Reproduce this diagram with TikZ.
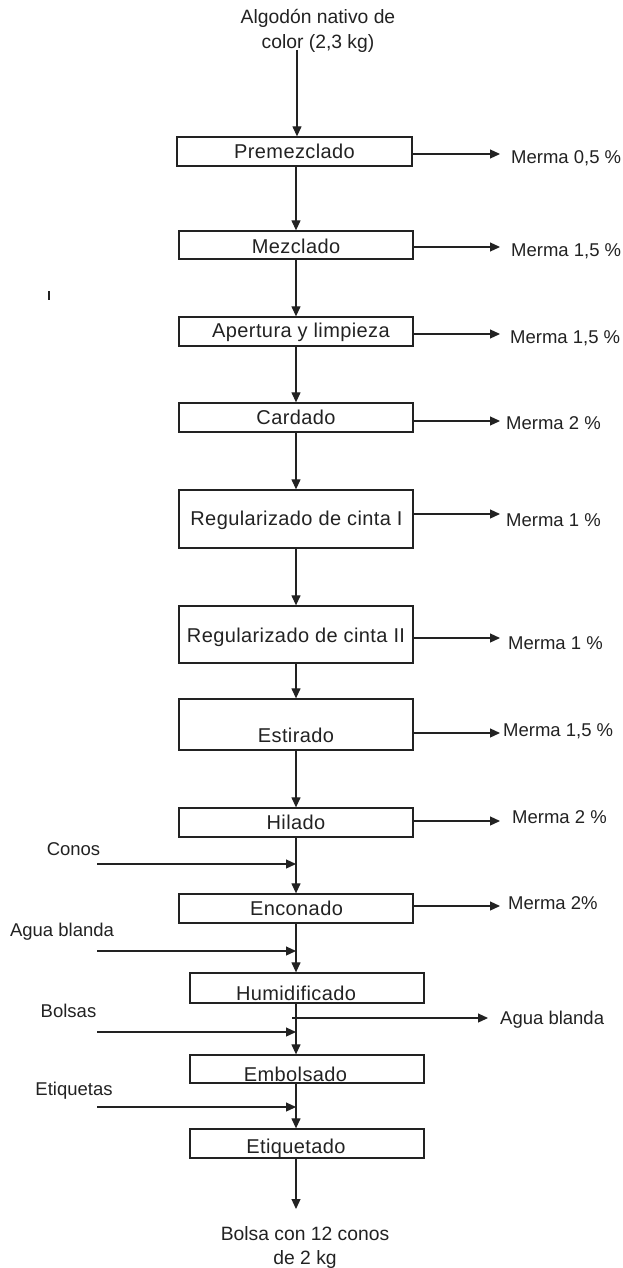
\documentclass[tikz,border=0pt]{standalone}
\usepackage{fontspec}
\setmainfont{Liberation Sans}
\usetikzlibrary{arrows.meta}
\definecolor{ink}{HTML}{222222}
\begin{document}
\begin{tikzpicture}[x=1pt,y=-1pt,
  ln/.style={line width=1.2pt, draw=ink},
  arr/.style={ln, -{Triangle[length=10pt,width=9pt]}},
  box/.style={draw=ink, line width=1.3pt, inner sep=0pt, minimum width=234pt},
  tb/.style={inner sep=0pt, font=\fontsize{20}{25}\selectfont\addfontfeatures{LetterSpace=2}, text height=14pt, text depth=0pt, text=ink},
  ts/.style={inner sep=0pt, font=\fontsize{18.5}{24}\selectfont, text height=13.2pt, text depth=0pt, text=ink, anchor=west},
  tm/.style={inner sep=0pt, font=\fontsize{19.3}{24.5}\selectfont, text=ink, align=center, anchor=north},
]
\useasboundingbox (0,0) rectangle (623,1268);
\coordinate (m) at (296,0);

% boxes
\node[box, minimum width=235pt, minimum height=29pt] (b1) at (294.5,151.5) {};
\node[box, minimum height=28pt] (b2) at (296,245) {};
\node[box, minimum height=29pt] (b3) at (296,331.5) {};
\node[box, minimum height=29pt] (b4) at (296,417.5) {};
\node[box, minimum height=58pt] (b5) at (296,519) {};
\node[box, minimum height=57pt] (b6) at (296,634.5) {};
\node[box, minimum height=51pt] (b7) at (296,724.5) {};
\node[box, minimum height=29pt] (b8) at (296,822.5) {};
\node[box, minimum height=29pt] (b9) at (296,908.5) {};
\node[box, minimum height=30pt] (b10) at (307,988) {};
\node[box, minimum height=28pt] (b11) at (307,1069) {};
\node[box, minimum height=29pt] (b12) at (307,1143.5) {};

% box labels
\node[tb] (l1) at (294.5,152) {Premezclado};
\node[tb] (l2) at (296,246.5) {Mezclado};
\node[tb] (l3) at (301,330.5) {Apertura y limpieza};
\node[tb] (l4) at (296,417) {Cardado};
\node[tb] (l5) at (296.5,518.5) {Regularizado de cinta I};
\node[tb] (l6) at (296,635) {Regularizado de cinta II};
\node[tb] (l7) at (296,735) {Estirado};
\node[tb] (l8) at (296,822) {Hilado};
\node[tb] (l9) at (296.5,908) {Enconado};
\node[tb] (l10) at (296,993) {Humidificado};
\node[tb] (l11) at (295.5,1074) {Embolsado};
\node[tb] (l12) at (296,1146) {Etiquetado};

% input and output
\node[tm] (in) at (318,9.5) {Algodón nativo de\\color (2,3 kg)};
\coordinate (a0) at (297,50);
\draw[arr] (a0) -- (a0 |- b1.north);
\node[tm] (out) at (305,1226) {Bolsa con 12 conos\\de 2 kg};
\coordinate (a13) at (296,1209);
\draw[arr] (m |- b12.south) -- (a13);

% main flow
\draw[arr] (m |- b1.south) -- (m |- b2.north);
\draw[arr] (m |- b2.south) -- (m |- b3.north);
\draw[arr] (m |- b3.south) -- (m |- b4.north);
\draw[arr] (m |- b4.south) -- (m |- b5.north);
\draw[arr] (m |- b5.south) -- (m |- b6.north);
\draw[arr] (m |- b6.south) -- (m |- b7.north);
\draw[arr] (m |- b7.south) -- (m |- b8.north);
\draw[arr] (m |- b8.south) -- (m |- b9.north);
\draw[arr] (m |- b9.south) -- (m |- b10.north);
\draw[arr] (m |- b10.south) -- (m |- b11.north);
\draw[arr] (m |- b11.south) -- (m |- b12.north);

% losses
\coordinate (r1) at (500,154);
\coordinate (r2) at (500,247);
\coordinate (r3) at (500,334);
\coordinate (r4) at (500,421);
\coordinate (r5) at (500,514);
\coordinate (r6) at (500,638);
\coordinate (r7) at (500,733);
\coordinate (r8) at (500,821);
\coordinate (r9) at (500,906);
\draw[arr] (b1.east |- r1) -- (r1);
\draw[arr] (b2.east |- r2) -- (r2);
\draw[arr] (b3.east |- r3) -- (r3);
\draw[arr] (b4.east |- r4) -- (r4);
\draw[arr] (b5.east |- r5) -- (r5);
\draw[arr] (b6.east |- r6) -- (r6);
\draw[arr] (b7.east |- r7) -- (r7);
\draw[arr] (b8.east |- r8) -- (r8);
\draw[arr] (b9.east |- r9) -- (r9);
\node[ts] (m1) at (511,157) {Merma 0,5 \%};
\node[ts] (m2) at (511,250) {Merma 1,5 \%};
\node[ts] (m3) at (510,337) {Merma 1,5 \%};
\node[ts] (m4) at (506,423) {Merma 2 \%};
\node[ts] (m5) at (506,520) {Merma 1 \%};
\node[ts] (m6) at (508,643) {Merma 1 \%};
\node[ts] (m7) at (503,730) {Merma 1,5 \%};
\node[ts] (m8) at (512,817) {Merma 2 \%};
\node[ts] (m9) at (508,903) {Merma 2\%};

% side inputs
\coordinate (s1) at (97,864);
\coordinate (s2) at (97,951);
\coordinate (s3) at (97,1032);
\coordinate (s4) at (97,1107);
\draw[arr] (s1) -- (m |- s1);
\draw[arr] (s2) -- (m |- s2);
\draw[arr] (s3) -- (m |- s3);
\draw[arr] (s4) -- (m |- s4);
\node[ts, anchor=center] (i1) at (73.5,849) {Conos};
\node[ts, anchor=center] (i2) at (62,930) {Agua blanda};
\node[ts, anchor=center] (i3) at (68.5,1011) {Bolsas};
\node[ts, anchor=center] (i4) at (74,1089) {Etiquetas};

% water out
\coordinate (w0) at (292,1018);
\coordinate (w1) at (488,1018);
\draw[arr] (w0) -- (w1);
\node[ts] (wo) at (500,1018) {Agua blanda};

% stray tick
\coordinate (k0) at (49,291);
\coordinate (k1) at (49,300);
\draw[ln] (k0) -- (k1);
\end{tikzpicture}
\end{document}
